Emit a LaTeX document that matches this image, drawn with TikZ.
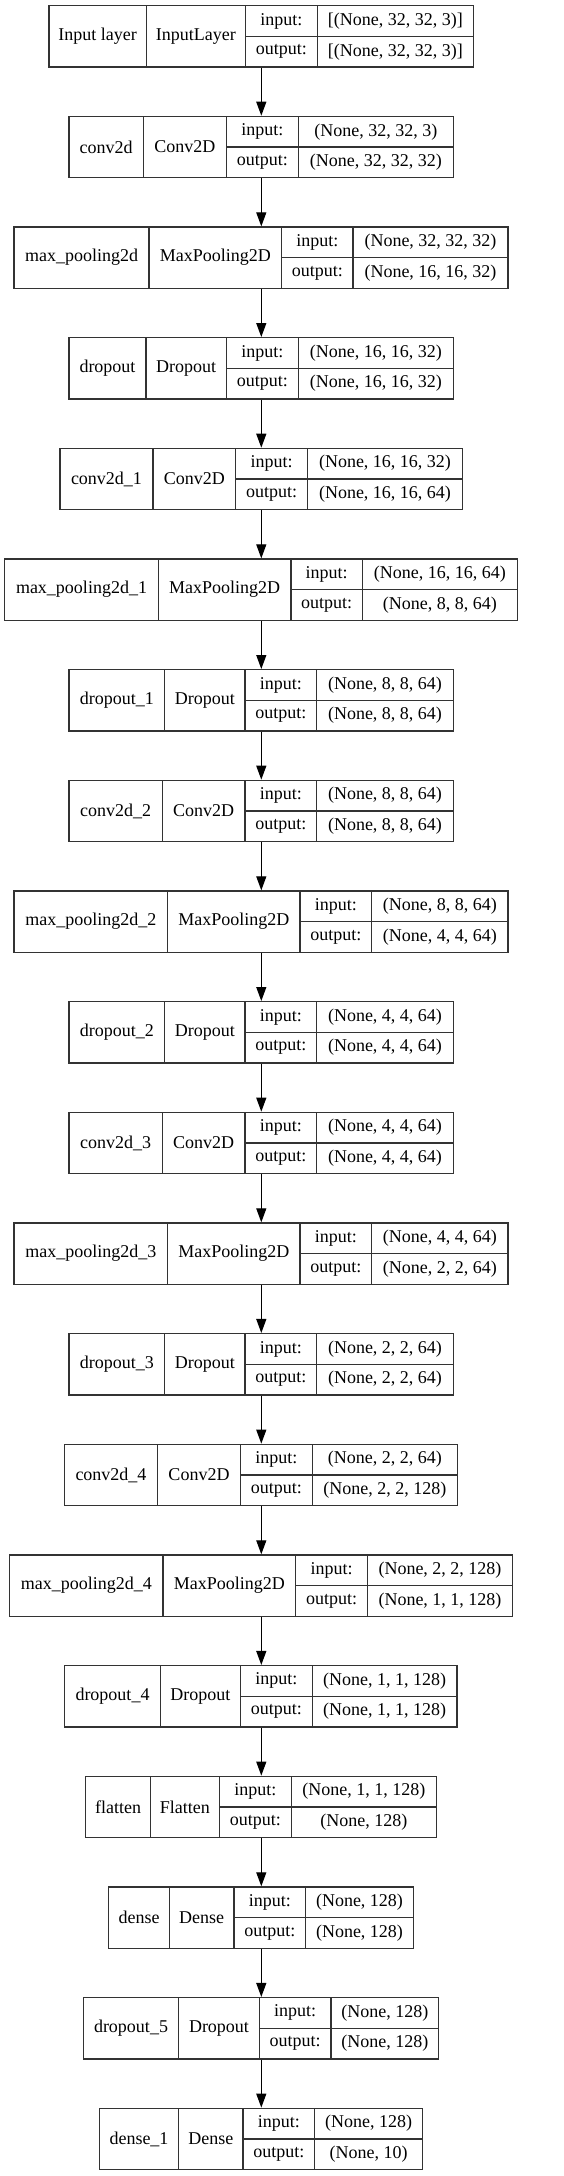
\documentclass[tikz,border=0pt]{standalone}
\usepackage{fontspec}
\setmainfont{Liberation Serif}
\usetikzlibrary{arrows.meta}
\tikzset{
  boxline/.style={draw=black!80, line width=1.3pt},
  lbl/.style={inner sep=0pt, font=\fontsize{18}{20}\selectfont},
  flow/.style={draw=black, line width=1.2pt, -{Triangle[width=10pt,length=14pt]}}
}
\def\parsecoords#1,#2,#3,#4,#5\relax{\def\myxa{#1}\def\myxb{#2}\def\myxc{#3}\def\myxd{#4}\def\myxe{#5}}
\newcommand\layer[6]{%
  \pgfmathsetmacro\myyt{5.7+110.66*(#1-1)}%
  \pgfmathsetmacro\myyb{\myyt+61.3}%
  \pgfmathsetmacro\myym{\myyt+30.65}%
  \parsecoords#2\relax
  \pgfmathsetmacro\myxm{(\myxa+\myxe)/2}%
  \pgfmathsetmacro\mybw{\myxe-\myxa}%
  \node[boxline, minimum width=\mybw pt, minimum height=61.3pt, inner sep=0pt] (L#1) at (\myxm,\myym) {};
  \draw[boxline] (\myxb,\myyt) -- (\myxb,\myyb) (\myxc,\myyt) -- (\myxc,\myyb) (\myxd,\myyt) -- (\myxd,\myyb) (\myxc,\myym) -- (\myxe,\myym);
  \node[lbl] (N#1) at ({(\myxa+\myxb)/2},\myym) {#3};
  \node[lbl] (T#1) at ({(\myxb+\myxc)/2},\myym) {#4};
  \node[lbl] (IK#1) at ({(\myxc+\myxd)/2},{(\myyt+\myym)/2}) {input:};
  \node[lbl] (OK#1) at ({(\myxc+\myxd)/2},{(\myym+\myyb)/2}) {output:};
  \node[lbl] (IV#1) at ({(\myxd+\myxe)/2},{(\myyt+\myym)/2}) {#5};
  \node[lbl] (OV#1) at ({(\myxd+\myxe)/2},{(\myym+\myyb)/2}) {#6};
}
\begin{document}
\begin{tikzpicture}[x=1pt,y=-1pt]
\useasboundingbox[fill=white] (0,0) rectangle (563,2176);
\coordinate (ax) at (261.3,0);
\layer{1}{49,146.3,245.3,317.3,473.3}{Input layer}{InputLayer}{[(None, 32, 32, 3)]}{[(None, 32, 32, 3)]}
\layer{2}{69,143.3,226.3,298.3,453.3}{conv2d}{Conv2D}{(None, 32, 32, 3)}{(None, 32, 32, 32)}
\layer{3}{14,149,281.7,353,508}{max\_pooling2d}{MaxPooling2D}{(None, 32, 32, 32)}{(None, 16, 16, 32)}
\layer{4}{69,146,226.3,298.3,453.3}{dropout}{Dropout}{(None, 16, 16, 32)}{(None, 16, 16, 32)}
\layer{5}{60,153,235.7,307.7,462.3}{conv2d\_1}{Conv2D}{(None, 16, 16, 32)}{(None, 16, 16, 64)}
\layer{6}{4.7,158.3,291,362.3,517.3}{max\_pooling2d\_1}{MaxPooling2D}{(None, 16, 16, 64)}{(None, 8, 8, 64)}
\layer{7}{69,164.7,245,316.7,453.3}{dropout\_1}{Dropout}{(None, 8, 8, 64)}{(None, 8, 8, 64)}
\layer{8}{69,162.3,245,316.7,453.3}{conv2d\_2}{Conv2D}{(None, 8, 8, 64)}{(None, 8, 8, 64)}
\layer{9}{14,167.7,300,371.7,508}{max\_pooling2d\_2}{MaxPooling2D}{(None, 8, 8, 64)}{(None, 4, 4, 64)}
\layer{10}{69,164.7,245,316.7,453.3}{dropout\_2}{Dropout}{(None, 4, 4, 64)}{(None, 4, 4, 64)}
\layer{11}{69,162.3,245,316.7,453.3}{conv2d\_3}{Conv2D}{(None, 4, 4, 64)}{(None, 4, 4, 64)}
\layer{12}{14,167.7,300,371.7,508}{max\_pooling2d\_3}{MaxPooling2D}{(None, 4, 4, 64)}{(None, 2, 2, 64)}
\layer{13}{69,164.7,245,316.7,453.3}{dropout\_3}{Dropout}{(None, 2, 2, 64)}{(None, 2, 2, 64)}
\layer{14}{64.3,157.7,240.3,312.3,457.3}{conv2d\_4}{Conv2D}{(None, 2, 2, 64)}{(None, 2, 2, 128)}
\layer{15}{9.7,163,295.7,367.7,512.3}{max\_pooling2d\_4}{MaxPooling2D}{(None, 2, 2, 128)}{(None, 1, 1, 128)}
\layer{16}{64.7,160.3,240.3,312.3,457}{dropout\_4}{Dropout}{(None, 1, 1, 128)}{(None, 1, 1, 128)}
\layer{17}{85.7,150.3,219.3,291.3,436.3}{flatten}{Flatten}{(None, 1, 1, 128)}{(None, 128)}
\layer{18}{108.7,169.3,234,305.7,413.3}{dense}{Dense}{(None, 128)}{(None, 128)}
\layer{19}{83.3,178.7,259.3,331,438.7}{dropout\_5}{Dropout}{(None, 128)}{(None, 128)}
\layer{20}{99.3,178.7,243,314.7,422.7}{dense\_1}{Dense}{(None, 128)}{(None, 10)}
\foreach \i [evaluate=\i as \j using int(\i+1)] in {1,...,19}{
  \draw[flow] (L\i.south -| ax) -- (L\j.north -| ax);
}
\end{tikzpicture}
\end{document}
